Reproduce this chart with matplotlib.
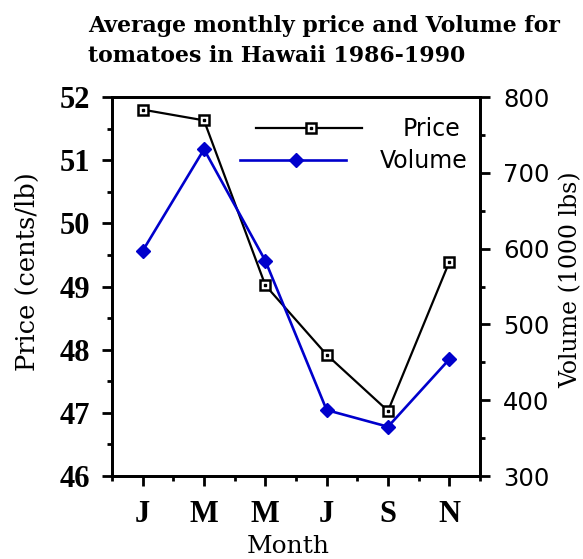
import matplotlib
matplotlib.use("Agg")
import matplotlib.pyplot as plt
from matplotlib.ticker import MultipleLocator, FixedLocator

months = ["J", "M", "M", "J", "S", "N"]
month_pos = [1, 3, 5, 7, 9, 11]
price = [51.8, 51.63, 49.02, 47.92, 47.03, 49.39]
volume = [597, 731, 584, 387, 365, 454]

serif_t = "Liberation Serif"
serif = "DejaVu Serif"
sans = "DejaVu Sans"
blue = "#0000CC"

W, H = 583, 559
fig = plt.figure(figsize=(W/100, H/100), dpi=100)
ax = fig.add_axes([112/W, 1-476/H, (480-112)/W, (476-97)/H])
ax2 = ax.twinx()

ax.plot(month_pos, price, color="black", lw=1.6, marker="s", ms=7.5, mfc="white",
        mec="black", mew=1.8, zorder=3)
ax.plot(month_pos, price, ls="none", marker="s", ms=2, color="black", zorder=4)
ax2.plot(month_pos, volume, color=blue, lw=1.9, marker="D", ms=7.5, mfc=blue,
         mec=blue, zorder=3)

ax.set_xlim(0, 12)
ax.set_ylim(46, 52)
ax2.set_ylim(300, 800)

ax.xaxis.set_major_locator(FixedLocator(month_pos))
ax.xaxis.set_minor_locator(FixedLocator([0, 2, 4, 6, 8, 10, 12]))
ax.set_xticklabels(months, fontfamily=serif_t, fontweight="bold", fontsize=22)
ax.yaxis.set_major_locator(MultipleLocator(1))
ax.yaxis.set_minor_locator(MultipleLocator(0.5))
for lab in ax.get_yticklabels():
    lab.set_fontfamily(serif_t); lab.set_fontweight("bold"); lab.set_fontsize(22)
ax2.yaxis.set_major_locator(MultipleLocator(100))
ax2.yaxis.set_minor_locator(MultipleLocator(50))
for lab in ax2.get_yticklabels():
    lab.set_fontfamily(sans); lab.set_fontsize(17.5)

for a in (ax, ax2):
    for s in a.spines.values():
        s.set_linewidth(2)
    a.tick_params(which="major", direction="out", length=7.5, width=2)
    a.tick_params(which="minor", direction="out", length=3.8, width=2)
ax.tick_params(axis="x", which="major", pad=10)
ax.tick_params(axis="y", which="major", pad=8)
ax2.tick_params(axis="y", which="major", pad=9)

fig.text(27/W, 1-272/H, "Price (cents/lb)", fontfamily=serif, fontsize=18.5,
         rotation=90, ha="center", va="center")
fig.text(571/W, 1-280/H, "Volume (1000 lbs)", fontfamily=serif, fontsize=17,
         rotation=90, ha="center", va="center")
fig.text(288/W, 1-553/H, "Month", fontfamily=serif, fontsize=18,
         ha="center", va="baseline")

fig.text(88/W, 1-32/H, "Average monthly price and Volume for",
         fontfamily=serif, fontweight="bold", fontsize=15.8, va="baseline", ha="left")
fig.text(88/W, 1-62/H, "tomatoes in Hawaii 1986-1990",
         fontfamily=serif, fontweight="bold", fontsize=15.8, va="baseline", ha="left")

# legend
tr = ax.transAxes
def ax_x(px):
    return (px - 112) / (480 - 112)
def ax_y(py):
    return (476 - py) / (476 - 97)
ax.plot([ax_x(256), ax_x(362)], [ax_y(128)] * 2, color="black", lw=1.6, transform=tr)
ax.plot([ax_x(311)], [ax_y(128)], marker="s", ms=7.5, mfc="white", mec="black", mew=1.8,
        transform=tr)
ax.plot([ax_x(311)], [ax_y(128)], marker="s", ms=2, color="black", transform=tr)
ax.plot([ax_x(240), ax_x(346)], [ax_y(160)] * 2, color=blue, lw=1.9, transform=tr)
ax.plot([ax_x(296)], [ax_y(160)], marker="D", ms=7, color=blue, transform=tr)
ax.text(ax_x(460), ax_y(129.5), "Price", transform=tr, ha="right", va="center",
        fontfamily=sans, fontsize=17)
ax.text(ax_x(468), ax_y(160.5), "Volume", transform=tr, ha="right", va="center",
        fontfamily=sans, fontsize=17)

fig.savefig("out.png", dpi=100)
